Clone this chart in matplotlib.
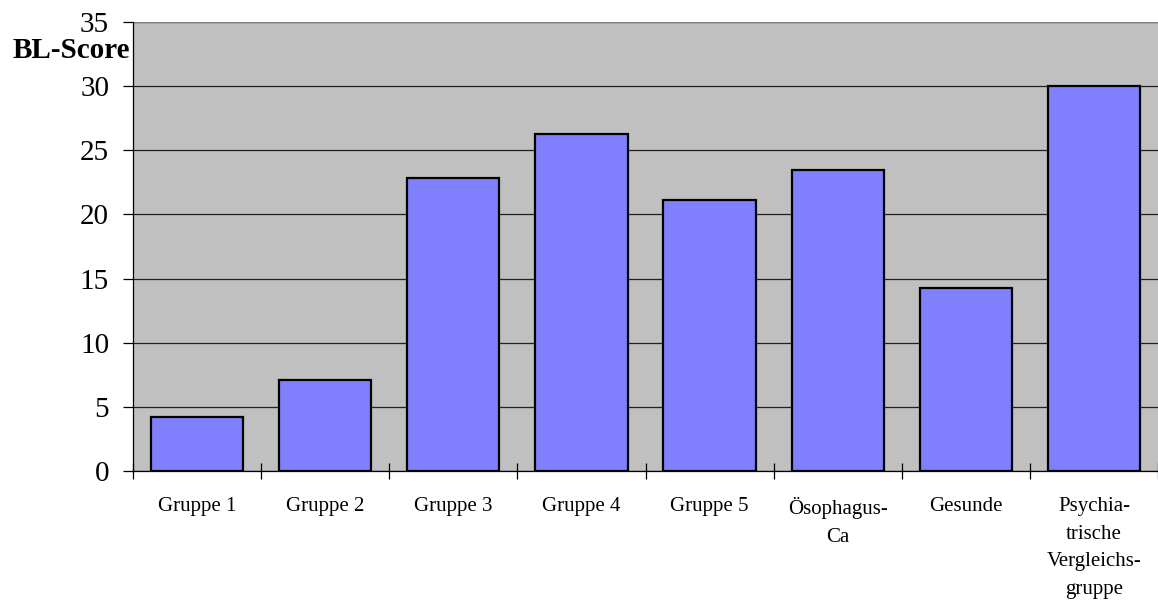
import matplotlib.pyplot as plt
import numpy as np

gruppen = ["Gruppe 1", "Gruppe 2", "Gruppe 3", "Gruppe 4", "Gruppe 5",
           "Ösophagus-\nCa", "Gesunde", "Psychia-\ntrische\nVergleichs-\ngruppe"]
werte = [4.2, 7.1, 22.8, 26.3, 21.1, 23.5, 14.3, 30.0]

plt.rcParams["font.family"] = ["Liberation Serif", "DejaVu Serif"]

fig = plt.figure(figsize=(11.58, 6.03), dpi=100)
ax = fig.add_axes([0.1149, 0.219, 0.8851, 0.7445])
ax.set_facecolor("#C0C0C0")

x = np.arange(len(gruppen))
ax.bar(x, werte, width=0.72, color="#8080FF", edgecolor="black", linewidth=1.6, zorder=3)

ax.set_xlim(-0.5, len(gruppen) - 0.5)
ax.set_ylim(0, 35)
ax.set_yticks(range(0, 36, 5))
ax.yaxis.grid(True, color="#202020", linewidth=0.9, zorder=1)
ax.tick_params(axis="y", labelsize=21, length=7.2, width=0.9, direction="out", pad=10)

ax.set_xticks(x)
ax.set_xticklabels(gruppen, fontsize=15, linespacing=1.6, va="top")
ax.tick_params(axis="x", which="major", length=0, pad=19)
ax.set_xticks(np.arange(-0.5, len(gruppen), 1.0), minor=True)
ax.tick_params(axis="x", which="minor", length=11, width=0.9, direction="inout")

for s in ["top", "right"]:
    ax.spines[s].set_visible(False)
ax.spines["left"].set_linewidth(0.9)
ax.spines["bottom"].set_linewidth(0.9)
ax.axhline(35, color="#808080", linewidth=1.6, zorder=2)

fig.text(130 / 1158, 1 - 50 / 603, "BL-Score", fontsize=21, fontweight="bold",
         ha="right", va="center")

fig.savefig("out.png", dpi=100)
